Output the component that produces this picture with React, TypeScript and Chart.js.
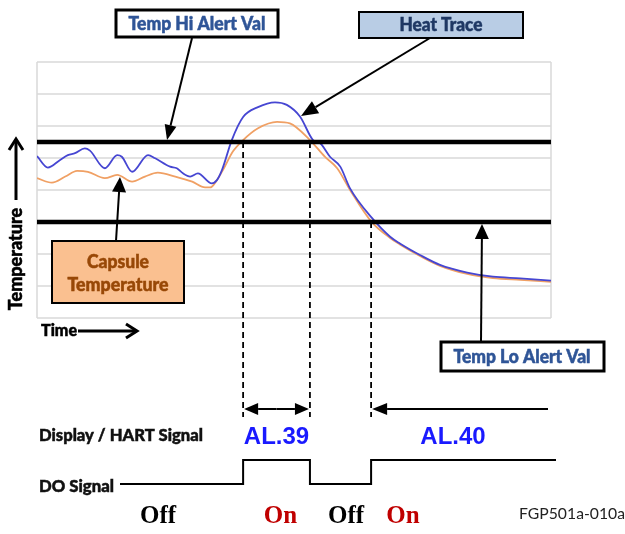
import React, { useEffect, useRef } from "react";
import { Chart, registerables } from "chart.js";
Chart.register(...registerables);

// ---- data (time 0..100, temperature in grid units 0..8) ----
const heatTraceTime = [0, 2.1, 4.5, 6.0, 7.4, 9.3, 10.3, 13.2, 15.6, 16.5, 18.5, 21.6, 23.0, 25.9, 27.2, 28.4, 29.8, 31.3, 34.0, 35.0, 36.0, 37.9, 40.1, 43.0, 46.3, 48.6, 51.2, 53.7, 55.1, 57.0, 59.0, 60.9, 65.2, 68.7, 70.6, 74.5, 78.4, 83.7, 88.7, 94.0, 100];
const heatTraceTemp = [5.06, 4.70, 4.94, 5.09, 5.15, 5.30, 5.23, 4.68, 5.09, 5.04, 4.57, 5.09, 4.99, 4.73, 4.68, 4.52, 4.42, 4.52, 4.21, 4.31, 4.63, 5.56, 6.28, 6.59, 6.74, 6.66, 6.29, 5.56, 5.46, 5.04, 4.73, 4.05, 3.12, 2.54, 2.33, 1.97, 1.66, 1.42, 1.29, 1.24, 1.17];
const capsuleTime = [0, 2.9, 5.5, 7.8, 9.9, 13.2, 15.6, 18.5, 21.0, 23.5, 26.9, 30.2, 32.7, 33.7, 34.6, 36.2, 38.1, 40.1, 43.0, 46.7, 49.2, 53.1, 56.0, 58.4, 60.9, 65.0, 68.7, 70.6, 74.5, 78.4, 83.7, 88.7, 94.0, 100];
const capsuleTemp = [4.37, 4.23, 4.42, 4.60, 4.57, 4.37, 4.47, 4.26, 4.42, 4.54, 4.42, 4.26, 4.08, 4.08, 4.21, 4.63, 5.20, 5.56, 5.93, 6.13, 6.08, 5.56, 5.04, 4.68, 4.00, 3.02, 2.50, 2.30, 1.94, 1.63, 1.38, 1.25, 1.19, 1.13];
const hiAlertVal = 5.5;
const loAlertVal = 3;
const gridValues = [0, 1, 2, 3, 4, 5, 6, 7, 8];
const alarmTimes = [40.1, 53.1, 65.0]; // Hi on, Hi off, Lo on
const alarmLabels = ["AL.39", "AL.40"];
const doStates = ["Off", "On", "Off", "On"];

const BLUE_TXT = "#2f5597";
const SANS = "Lato, 'Open Sans', sans-serif";

function txt(ctx: CanvasRenderingContext2D, s: string, x: number, y: number, font: string, color: string, w?: number, align: CanvasTextAlign = "center", heavy = false) {
  ctx.save();
  ctx.font = font;
  ctx.fillStyle = color;
  ctx.textAlign = align;
  ctx.textBaseline = "middle";
  if (w) ctx.fillText(s, x, y, w);
  else ctx.fillText(s, x, y);
  if (heavy) {
    ctx.strokeStyle = color;
    ctx.lineWidth = 0.5;
    if (w) ctx.strokeText(s, x, y, w);
    else ctx.strokeText(s, x, y);
  }
  ctx.restore();
}

function arrow(ctx: CanvasRenderingContext2D, x1: number, y1: number, x2: number, y2: number, hl = 14, hw = 6, lw = 2) {
  const a = Math.atan2(y2 - y1, x2 - x1);
  const bx = x2 - hl * Math.cos(a), by = y2 - hl * Math.sin(a);
  ctx.save();
  ctx.strokeStyle = "#000";
  ctx.fillStyle = "#000";
  ctx.lineWidth = lw;
  ctx.beginPath();
  ctx.moveTo(x1, y1);
  ctx.lineTo(bx, by);
  ctx.stroke();
  ctx.beginPath();
  ctx.moveTo(x2, y2);
  ctx.lineTo(bx + hw * Math.sin(a), by - hw * Math.cos(a));
  ctx.lineTo(bx - hw * Math.sin(a), by + hw * Math.cos(a));
  ctx.closePath();
  ctx.fill();
  ctx.restore();
}

function chevron(ctx: CanvasRenderingContext2D, x1: number, y1: number, x2: number, y2: number, hl = 10, hw = 7, lw = 3) {
  const a = Math.atan2(y2 - y1, x2 - x1);
  const bx = x2 - hl * Math.cos(a), by = y2 - hl * Math.sin(a);
  ctx.save();
  ctx.strokeStyle = "#000";
  ctx.lineWidth = lw;
  ctx.beginPath();
  ctx.moveTo(x1, y1);
  ctx.lineTo(x2 - 1 * Math.cos(a), y2 - 1 * Math.sin(a));
  ctx.stroke();
  ctx.beginPath();
  ctx.moveTo(bx + hw * Math.sin(a), by - hw * Math.cos(a));
  ctx.lineTo(x2, y2);
  ctx.lineTo(bx - hw * Math.sin(a), by + hw * Math.cos(a));
  ctx.stroke();
  ctx.restore();
}

function box(ctx: CanvasRenderingContext2D, x: number, y: number, w: number, h: number, fill: string | null, lw: number) {
  ctx.save();
  if (fill) {
    ctx.fillStyle = fill;
    ctx.fillRect(x, y, w, h);
  }
  ctx.strokeStyle = "#000";
  ctx.lineWidth = lw;
  ctx.strokeRect(x, y, w, h);
  ctx.restore();
}

const gridPlugin = {
  id: "gridPlugin",
  beforeDatasetsDraw(chart: any) {
    const { ctx, chartArea: ca, scales } = chart;
    ctx.save();
    ctx.strokeStyle = "#d9d9d9";
    ctx.lineWidth = 1.5;
    for (const v of gridValues) {
      const y = scales.y.getPixelForValue(v);
      ctx.beginPath();
      ctx.moveTo(ca.left, y);
      ctx.lineTo(ca.right, y);
      ctx.stroke();
    }
    ctx.beginPath();
    ctx.moveTo(ca.left, ca.top);
    ctx.lineTo(ca.left, ca.bottom);
    ctx.moveTo(ca.right, ca.top);
    ctx.lineTo(ca.right, ca.bottom);
    ctx.stroke();
    ctx.restore();
  },
};

const annotPlugin = {
  id: "annotPlugin",
  afterDraw(chart: any) {
    const { ctx, scales } = chart;
    const X = (v: number) => scales.x.getPixelForValue(v);
    const Y = (v: number) => scales.y.getPixelForValue(v);
    const yHi = Y(hiAlertVal), yLo = Y(loAlertVal);
    const [t1, t2, t3] = alarmTimes.map(X);

    // dashed vertical lines
    ctx.save();
    ctx.strokeStyle = "#000";
    ctx.lineWidth = 1.8;
    ctx.setLineDash([6, 4]);
    ctx.beginPath();
    ctx.moveTo(t1, yHi); ctx.lineTo(t1, 417);
    ctx.moveTo(t2, yHi); ctx.lineTo(t2, 417);
    ctx.moveTo(t3, yLo); ctx.lineTo(t3, 417);
    ctx.stroke();
    ctx.restore();

    const F = `900 18px ${SANS}`;
    // callout boxes
    box(ctx, 116, 10, 162, 27, "#ffffff", 3);
    txt(ctx, "Temp Hi Alert Val", 197, 24, F, BLUE_TXT, 137, "center", true);
    arrow(ctx, 192, 38, 167, yHi - 2, 15, 6, 2);

    box(ctx, 359, 12, 164, 26, "#b9cde5", 2);
    txt(ctx, "Heat Trace", 441, 25, F, "#1f3864", 83, "center", true);
    arrow(ctx, 430, 38, 301, 116, 17, 7, 2);

    box(ctx, 52, 241, 132, 62, "#fac090", 2);
    txt(ctx, "Capsule", 118, 262, F, "#984807", 62, "center", true);
    txt(ctx, "Temperature", 118, 285, F, "#984807", 101, "center", true);
    arrow(ctx, 116, 241, 120, 177, 15, 7, 2);

    box(ctx, 441, 342, 163, 29, "#ffffff", 3);
    txt(ctx, "Temp Lo Alert Val", 522, 357, F, BLUE_TXT, 137, "center", true);
    arrow(ctx, 481, 342, 482, yLo + 2, 15, 7, 2);

    // axis labels
    ctx.save();
    ctx.translate(16, 259);
    ctx.rotate(-Math.PI / 2);
    txt(ctx, "Temperature", 0, 0, F, "#000", 103, "center", true);
    ctx.restore();
    chevron(ctx, 16, 200, 16, 139, 11, 7, 3);
    txt(ctx, "Time", 41, 331, `900 17px ${SANS}`, "#000", 36, "left", true);
    chevron(ctx, 78, 331, 137, 331, 11, 7, 3);

    // timing diagram
    const yArr = 409;
    arrow(ctx, (t1 + t2) / 2, yArr, t1 + 1, yArr, 14, 6, 2);
    arrow(ctx, (t1 + t2) / 2, yArr, t2 - 1, yArr, 14, 6, 2);
    arrow(ctx, 548, yArr, t3 + 1, yArr, 15, 6, 2);

    txt(ctx, "Display / HART Signal", 39, 436, `900 17px ${SANS}`, "#111", 164, "left", true);
    txt(ctx, alarmLabels[0], (t1 + t2) / 2, 437, "bold 24px 'Liberation Sans', Arial, sans-serif", "#1a1aff", 66);
    txt(ctx, alarmLabels[1], 453, 437, "bold 24px 'Liberation Sans', Arial, sans-serif", "#1a1aff", 67);

    txt(ctx, "DO Signal", 39, 487, `900 17px ${SANS}`, "#111", 75, "left", true);
    const yLow = 484, yHigh = 460;
    ctx.save();
    ctx.strokeStyle = "#000";
    ctx.lineWidth = 2;
    ctx.beginPath();
    ctx.moveTo(120, yLow);
    ctx.lineTo(t1, yLow); ctx.lineTo(t1, yHigh);
    ctx.lineTo(t2, yHigh); ctx.lineTo(t2, yLow);
    ctx.lineTo(t3, yLow); ctx.lineTo(t3, yHigh);
    ctx.lineTo(556, yHigh);
    ctx.stroke();
    ctx.restore();

    const serif = "bold 25px 'Liberation Serif', 'Times New Roman', serif";
    const stateX = [158, (t1 + t2) / 2 + 4, 346, 403];
    doStates.forEach((s, i) => {
      txt(ctx, s, stateX[i], 517, serif, s === "On" ? "#c00000" : "#000");
    });
    txt(ctx, "FGP501a-010a", 625, 514, `16px ${SANS}`, "#222", 106, "right");
  },
};

export default function App() {
  const ref = useRef<HTMLCanvasElement | null>(null);
  useEffect(() => {
    document.body.style.margin = "0";
    const canvas = ref.current!;
    const chart = new Chart(canvas, {
      type: "line",
      data: {
        datasets: [
          {
            label: "Temp Hi Alert Val",
            data: [{ x: 0, y: hiAlertVal }, { x: 100, y: hiAlertVal }],
            borderColor: "#000",
            borderWidth: 4.5,
            pointRadius: 0,
          },
          {
            label: "Temp Lo Alert Val",
            data: [{ x: 0, y: loAlertVal }, { x: 100, y: loAlertVal }],
            borderColor: "#000",
            borderWidth: 4.5,
            pointRadius: 0,
          },
          {
            label: "Heat Trace",
            data: heatTraceTime.map((t, i) => ({ x: t, y: heatTraceTemp[i] })),
            borderColor: "#4646d2",
            borderWidth: 1.8,
            pointRadius: 0,
            cubicInterpolationMode: "monotone",
          },
          {
            label: "Capsule Temperature",
            data: capsuleTime.map((t, i) => ({ x: t, y: capsuleTemp[i] })),
            borderColor: "#f0a064",
            borderWidth: 1.8,
            pointRadius: 0,
            cubicInterpolationMode: "monotone",
          },
        ],
      },
      options: {
        animation: false,
        responsive: false,
        devicePixelRatio: 1,
        layout: { padding: { left: 37, right: 74, top: 62, bottom: 216 } },
        plugins: { legend: { display: false }, tooltip: { enabled: false } },
        events: [],
        scales: {
          x: { type: "linear", min: 0, max: 100, display: false },
          y: { type: "linear", min: 0, max: 8, display: false },
        },
      },
      plugins: [gridPlugin, annotPlugin],
    } as any);
    return () => chart.destroy();
  }, []);
  return (
    <div style={{ width: 625, height: 534, background: "#fff" }}>
      <canvas ref={ref} width={625} height={534} style={{ display: "block" }} />
    </div>
  );
}
